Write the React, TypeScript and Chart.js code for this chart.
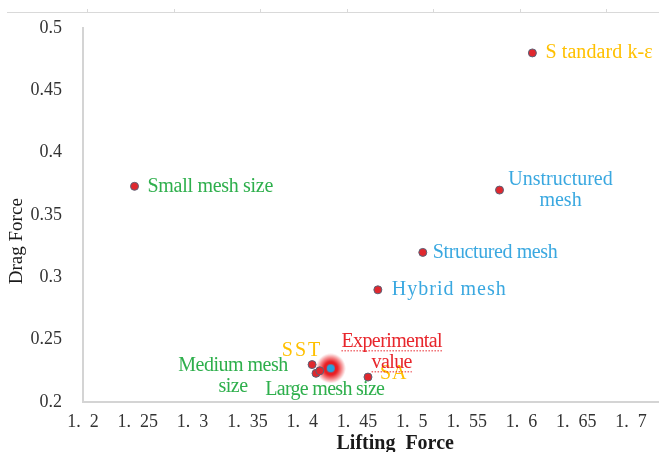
import React, { useEffect, useRef } from "react";
import { Chart, registerables } from "chart.js";
Chart.register(...registerables);

// ---- data ----
const pointNames = [
  "Small mesh size",
  "Standard k-ε",
  "Unstructured mesh",
  "Structured mesh",
  "Hybrid mesh",
  "SA",
  "SST",
  "Medium mesh size",
  "Large mesh size",
];
const liftValues = [1.247, 1.61, 1.58, 1.51, 1.469, 1.46, 1.409, 1.4126, 1.416];
const dragValues = [0.373, 0.48, 0.37, 0.32, 0.29, 0.22, 0.23, 0.223, 0.225];
const experimentalName = "Experimental value";
const experimentalLift = [1.426];
const experimentalDrag = [0.227];

const xTickValues = [1.2, 1.25, 1.3, 1.35, 1.4, 1.45, 1.5, 1.55, 1.6, 1.65, 1.7];
const xTickLabels = ["1.  2", "1.  25", "1.  3", "1.  35", "1.  4", "1.  45", "1.  5", "1.  55", "1.  6", "1.  65", "1.  7"];
const yTickValues = [0.2, 0.25, 0.3, 0.35, 0.4, 0.45, 0.5];
const yTickLabels = ["0.2", "0.25", "0.3", "0.35", "0.4", "0.45", "0.5"];
const xTitle = "Lifting  Force";
const yTitle = "Drag Force";

// ---- label styling (separate from data) ----
const GREEN = "#2EAF4C";
const GOLD = "#FFC000";
const BLUE = "#3AA8E0";
const RED = "#E8262C";
const labelStyles = [
  { lines: ["Small mesh size"], color: GREEN, dx: 13, dy: 0, align: "left", ls: -0.3 },
  { lines: ["S tandard k-ε"], color: GOLD, dx: 13, dy: 0, align: "left", ls: 0.1 },
  { lines: ["Unstructured", "mesh"], color: BLUE, dx: 61, dy: -10, align: "center", ls: 0 },
  { lines: ["Structured mesh"], color: BLUE, dx: 10, dy: 0, align: "left", ls: -0.4 },
  { lines: ["Hybrid mesh"], color: BLUE, dx: 14, dy: 0, align: "left", ls: 1.0 },
  { lines: ["SA"], color: GOLD, dx: 12, dy: -3, align: "left", ls: 1 },
  { lines: ["SST"], color: GOLD, dx: -10, dy: -14, align: "center", ls: 2 },
  { lines: ["Medium mesh", "size"], color: GREEN, dx: -83, dy: -8, align: "center", ls: -0.5 },
  { lines: ["Large mesh size"], color: GREEN, dx: 5, dy: 19, align: "center", ls: -0.7 },
];
const expLabelStyle = { lines: ["Experimental", "value"], color: RED, dx: 61, dy: -27, align: "center", ls: -0.6 };
const LINE_H = 21;
const FONT = "20px 'Liberation Serif', 'DejaVu Serif', serif";

function makeGlow(): HTMLCanvasElement {
  const c = document.createElement("canvas");
  c.width = 30;
  c.height = 30;
  const g = c.getContext("2d")!;
  const grad = g.createRadialGradient(15, 15, 0, 15, 15, 15);
  grad.addColorStop(0, "rgba(232,20,25,1)");
  grad.addColorStop(0.45, "rgba(232,20,25,0.95)");
  grad.addColorStop(0.75, "rgba(232,20,25,0.45)");
  grad.addColorStop(1, "rgba(232,20,25,0)");
  g.fillStyle = grad;
  g.beginPath();
  g.arc(15, 15, 15, 0, Math.PI * 2);
  g.fill();
  g.fillStyle = "#27A3DD";
  g.beginPath();
  g.arc(15, 15, 4, 0, Math.PI * 2);
  g.fill();
  return c;
}

function drawLabel(ctx: CanvasRenderingContext2D, px: number, py: number, st: any, underline = false) {
  ctx.save();
  ctx.font = FONT;
  (ctx as any).letterSpacing = st.ls + "px";
  ctx.fillStyle = st.color;
  ctx.textAlign = st.align;
  ctx.textBaseline = "middle";
  st.lines.forEach((line: string, i: number) => {
    const x = px + st.dx;
    const y = py + st.dy + i * LINE_H;
    ctx.fillText(line, x, y);
    if (underline) {
      const w = ctx.measureText(line).width;
      const x0 = st.align === "center" ? x - w / 2 : x;
      ctx.strokeStyle = st.color;
      ctx.lineWidth = 1;
      ctx.setLineDash([1.5, 1.5]);
      ctx.beginPath();
      ctx.moveTo(x0, y + 9.5);
      ctx.lineTo(x0 + w, y + 9.5);
      ctx.stroke();
    }
  });
  ctx.restore();
}

const labelPlugin = {
  id: "pointLabels",
  afterDatasetsDraw(chart: any) {
    const ctx = chart.ctx;
    const meta0 = chart.getDatasetMeta(0);
    meta0.data.forEach((el: any, i: number) => {
      drawLabel(ctx, el.x, el.y, labelStyles[i]);
    });
    const meta1 = chart.getDatasetMeta(1);
    meta1.data.forEach((el: any) => {
      drawLabel(ctx, el.x, el.y, expLabelStyle, true);
    });
  },
  afterDraw(chart: any) {
    const ctx = chart.ctx;
    const ca = chart.chartArea;
    ctx.save();
    ctx.fillStyle = "#1a1a1a";
    ctx.font = "bold 20px 'Liberation Serif', serif";
    ctx.textAlign = "center";
    ctx.textBaseline = "middle";
    ctx.fillText(xTitle, ca.left + ca.width * 0.542, 444);
    ctx.font = "19px 'Liberation Serif', serif";
    ctx.translate(17, ca.top + ca.height * 0.57);
    ctx.rotate(-Math.PI / 2);
    ctx.fillText(yTitle, 0, 0);
    ctx.restore();
    // top decorative rule
    ctx.save();
    ctx.strokeStyle = "#d9d9d9";
    ctx.lineWidth = 1;
    ctx.beginPath();
    ctx.moveTo(7, 12.5);
    ctx.lineTo(chart.width, 12.5);
    for (let x = 87; x < chart.width; x += 86.5) {
      ctx.moveTo(Math.round(x) + 0.5, 9);
      ctx.lineTo(Math.round(x) + 0.5, 12.5);
    }
    ctx.stroke();
    ctx.restore();
  },
};

export default function App() {
  const ref = useRef<HTMLCanvasElement>(null);
  useEffect(() => {
    document.body.style.margin = "0";
    const canvas = ref.current!;
    const tickFont = { family: "'Liberation Serif', serif", size: 18 };
    const chart = new Chart(canvas, {
      type: "scatter",
      data: {
        datasets: [
          {
            label: "Simulations",
            data: liftValues.map((x, i) => ({ x, y: dragValues[i] })),
            pointRadius: 4,
            pointBackgroundColor: "#E0282E",
            pointBorderColor: "#5A6278",
            pointBorderWidth: 1,
          },
          {
            label: experimentalName,
            data: experimentalLift.map((x, i) => ({ x, y: experimentalDrag[i] })),
            pointStyle: makeGlow() as any,
            pointRadius: 15,
          },
        ],
      },
      options: {
        animation: false,
        responsive: false,
        devicePixelRatio: 1,
        layout: { autoPadding: false, padding: { top: 28, right: 0, left: 0, bottom: 0 } },
        plugins: { legend: { display: false }, tooltip: { enabled: false } },
        scales: {
          x: {
            type: "linear",
            min: 1.2,
            max: 1.7255,
            afterBuildTicks: (s: any) => {
              s.ticks = xTickValues.map((v) => ({ value: v }));
            },
            afterFit: (s: any) => {
              s.height = 50;
              s.paddingLeft = 0;
              s.paddingRight = 0;
            },
            ticks: {
              callback: (_v: any, i: number) => xTickLabels[i],
              font: tickFont,
              color: "#333333",
              padding: 9,
              maxRotation: 0,
              autoSkip: false,
            },
            grid: { display: false, drawTicks: false },
            border: { color: "#d4d4d4", width: 2 },
          },
          y: {
            type: "linear",
            min: 0.2,
            max: 0.5,
            afterBuildTicks: (s: any) => {
              s.ticks = yTickValues.map((v) => ({ value: v }));
            },
            afterFit: (s: any) => {
              s.width = 83;
              s.paddingTop = 0;
              s.paddingBottom = 0;
            },
            ticks: {
              callback: (_v: any, i: number) => yTickLabels[i],
              font: tickFont,
              color: "#333333",
              padding: 21,
              autoSkip: false,
            },
            grid: { display: false, drawTicks: false },
            border: { color: "#d4d4d4", width: 2 },
          },
        },
      },
      plugins: [labelPlugin],
    });
    return () => chart.destroy();
  }, []);
  return (
    <div style={{ width: 659, height: 452, background: "#fff" }}>
      <canvas ref={ref} width={659} height={452} style={{ display: "block", width: 659, height: 452 }} />
    </div>
  );
}
